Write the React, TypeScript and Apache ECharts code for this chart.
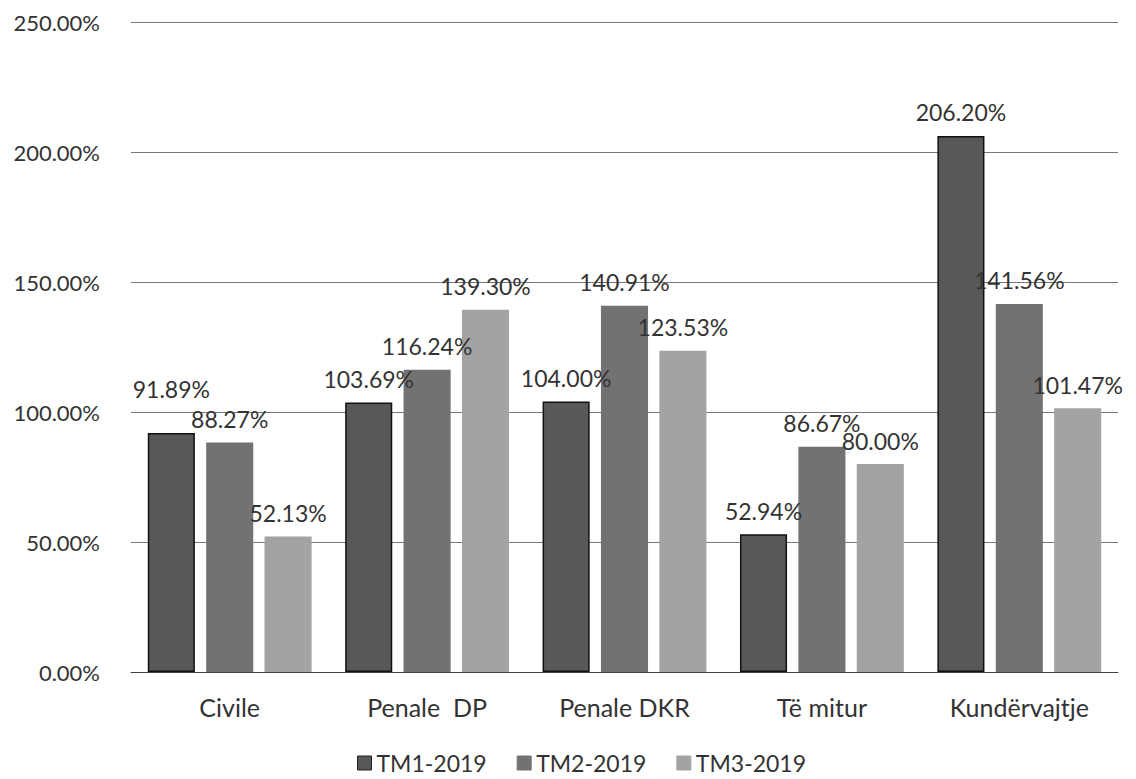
import React, { useEffect, useRef } from "react";
import * as echarts from "echarts";

const categories = ["Civile", "Penale  DP", "Penale DKR", "Të mitur", "Kundërvajtje"];
const seriesNames = ["TM1-2019", "TM2-2019", "TM3-2019"];
const tm1 = [91.89, 103.69, 104.0, 52.94, 206.2];
const tm2 = [88.27, 116.24, 140.91, 86.67, 141.56];
const tm3 = [52.13, 139.3, 123.53, 80.0, 101.47];
const yTicks = [0, 50, 100, 150, 200, 250];

const FONT = "Lato, 'Open Sans', sans-serif";

export default function App() {
  const ref = useRef<HTMLDivElement>(null);
  useEffect(() => {
    if (!ref.current) return;
    const chart = echarts.init(ref.current, undefined, { renderer: "svg" });
    const colors = ["#585858", "#727272", "#a3a3a3"];
    const data = [tm1, tm2, tm3];
    chart.setOption({
      animation: false,
      backgroundColor: "#ffffff",
      textStyle: { fontFamily: FONT },
      grid: { left: 131, right: 18, top: 22, bottom: 107 },
      legend: {
        top: 746,
        left: 352,
        itemWidth: 14,
        itemHeight: 14,
        itemGap: 30,
        icon: "rect",
        textStyle: { fontFamily: FONT, fontSize: 23, color: "#333", lineHeight: 24 },
        data: seriesNames.map((n, i) => ({
          name: n,
          itemStyle: { borderColor: i === 0 ? "#222" : colors[i], borderWidth: 1 },
        })),
      },
      xAxis: {
        type: "category",
        data: categories,
        axisTick: { show: false },
        axisLine: { lineStyle: { color: "#444", width: 1 } },
        axisLabel: { fontFamily: FONT, fontSize: 25, color: "#333", margin: 22 },
      },
      yAxis: {
        type: "value",
        min: yTicks[0],
        max: yTicks[yTicks.length - 1],
        interval: 50,
        axisLine: { show: false },
        axisTick: { show: false },
        splitLine: { lineStyle: { color: "#777", width: 1 } },
        axisLabel: {
          fontFamily: FONT,
          fontSize: 22,
          color: "#333",
          margin: 31,
          formatter: (v: number) => v.toFixed(2) + "%",
        },
      },
      series: seriesNames.map((name, i) => ({
        name,
        type: "bar",
        data: data[i].map((v, j) =>
          i === 0 && j === 0 ? { value: v, label: { offset: [0, -21] } } : v
        ),
        barGap: "24%",
        barCategoryGap: "17%",
        itemStyle: {
          color: colors[i],
          borderColor: i === 0 ? "#111" : colors[i],
          borderWidth: i === 0 ? 1.5 : 0,
        },
        label: {
          show: true,
          position: "top",
          distance: 12,
          fontFamily: FONT,
          fontSize: 23,
          color: "#333",
          formatter: (p: any) => Number(p.value).toFixed(2) + "%",
        },
      })),
    });
    return () => chart.dispose();
  }, []);
  return (
    <div
      ref={ref}
      style={{ position: "absolute", left: 0, top: 0, width: 1136, height: 779 }}
    />
  );
}
